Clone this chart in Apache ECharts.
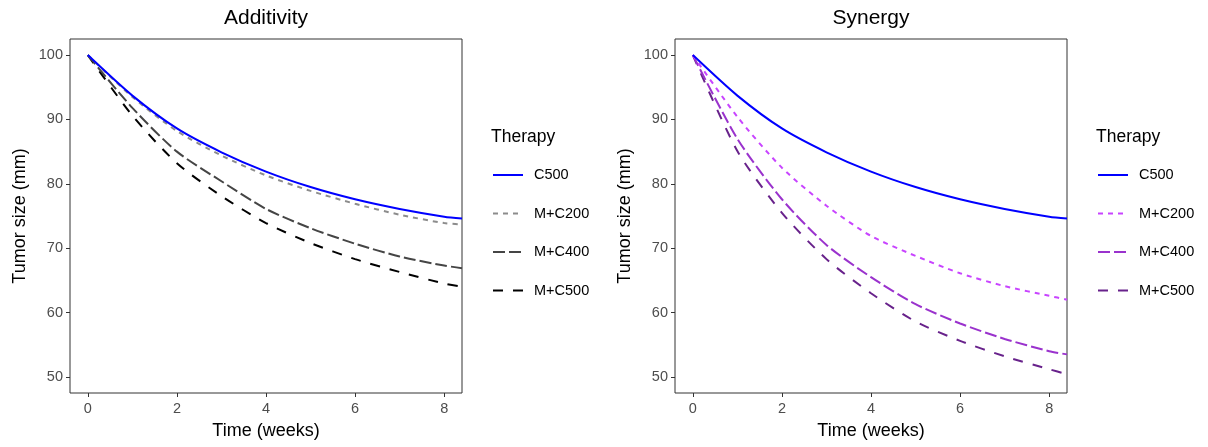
<!DOCTYPE html>
<html>
<head>
<meta charset="utf-8">
<script src="https://cdn.jsdelivr.net/npm/echarts@6/dist/echarts.min.js"></script>
<style>
  html, body { margin: 0; padding: 0; background: #fff; }
  #chart { width: 1208px; height: 447px; }
</style>
</head>
<body>
<div id="chart"></div>
<script>
// ---- data ----
const weeks = [0, 1, 2, 3, 4, 5, 6, 7, 8, 8.4];
const c500     = [100, 93.7, 88.6, 84.9, 81.9, 79.5, 77.6, 76.1, 74.9, 74.6];
const addMC200 = [100, 93.5, 88.2, 84.4, 81.3, 78.9, 76.9, 75.2, 73.9, 73.7];
const addMC400 = [100, 91.8, 85.0, 80.4, 76.1, 73.1, 70.7, 68.7, 67.3, 66.9];
const addMC500 = [100, 90.6, 83.2, 78.1, 73.9, 70.8, 68.3, 66.3, 64.5, 64.0];
const synMC200 = [100, 90.4, 82.5, 76.6, 71.9, 68.8, 66.1, 64.1, 62.6, 62.0];
const synMC400 = [100, 87.0, 77.6, 70.5, 65.5, 61.3, 58.3, 55.9, 54.0, 53.5];
const synMC500 = [100, 85.1, 75.5, 68.3, 63.0, 58.6, 55.6, 53.2, 51.2, 50.4];
const therapyNames = ['C500', 'M+C200', 'M+C400', 'M+C500'];
const panelTitles = ['Additivity', 'Synergy'];
const xTicks = [0, 2, 4, 6, 8];
const yTicks = [50, 60, 70, 80, 90, 100];

// ---- styling ----
const FONT = "'Liberation Sans', Arial, sans-serif";
const additivityColors = ['#0000FF', '#8C8C8C', '#454545', '#000000'];
const synergyColors = ['#0000FF', '#C844FF', '#9A32CD', '#68228B'];
const dashes = ['solid', [5, 5], [12, 4], [10, 10]];
const panels = [
  { left: 70, series: [c500, addMC200, addMC400, addMC500], colors: additivityColors },
  { left: 675, series: [c500, synMC200, synMC400, synMC500], colors: synergyColors }
];
const GRID_TOP = 39, GRID_W = 392, GRID_H = 354;

const pairs = arr => weeks.map((w, i) => [w, arr[i]]);

const option = {
  animation: false,
  backgroundColor: '#ffffff',
  title: panels.map((p, i) => ({
    text: panelTitles[i],
    left: p.left + GRID_W / 2,
    top: 8,
    padding: 0,
    textAlign: 'center',
    textStyle: { fontFamily: FONT, fontSize: 21, fontWeight: 'normal', color: '#000' }
  })),
  grid: panels.map(p => ({
    left: p.left, top: GRID_TOP, width: GRID_W, height: GRID_H,
    show: true, borderColor: '#333333', borderWidth: 1, backgroundColor: '#fff',
    containLabel: false, outerBoundsMode: 'none'
  })),
  xAxis: panels.map((p, i) => ({
    type: 'value', gridIndex: i, min: -0.4, max: 8.4,
    name: 'Time (weeks)', nameLocation: 'middle', nameGap: 29,
    nameTextStyle: { fontFamily: FONT, fontSize: 18, color: '#000' },
    axisLine: { show: false, onZero: false },
    splitLine: { show: false },
    axisTick: { show: true, length: 4, customValues: xTicks, lineStyle: { color: '#333333' } },
    axisLabel: { customValues: xTicks, fontFamily: FONT, fontSize: 14.5, color: '#4D4D4D', margin: 8 }
  })),
  yAxis: panels.map((p, i) => ({
    type: 'value', gridIndex: i, min: 47.5, max: 102.5, position: 'left',
    name: 'Tumor size (mm)', nameLocation: 'middle', nameGap: 41,
    nameTextStyle: { fontFamily: FONT, fontSize: 18, color: '#000' },
    axisLine: { show: false, onZero: false },
    splitLine: { show: false },
    axisTick: { show: true, length: 4, customValues: yTicks, lineStyle: { color: '#333333' } },
    axisLabel: { customValues: yTicks, fontFamily: FONT, fontSize: 14.5, color: '#4D4D4D', margin: 7 }
  })),
  series: []
};

panels.forEach((p, pi) => {
  p.series.forEach((arr, si) => {
    option.series.push({
      type: 'line', name: therapyNames[si],
      xAxisIndex: pi, yAxisIndex: pi,
      data: pairs(arr),
      showSymbol: false, symbol: 'none', clip: true,
      smooth: 0.25,
      z: 10 - si,
      lineStyle: { color: p.colors[si], width: 2, type: dashes[si], cap: 'butt' }
    });
  });
});

// legends (one per panel), built from the same names/colours/dashes
const legendElems = [];
panels.forEach(p => {
  const x0 = p.left + GRID_W + 29;
  legendElems.push({
    type: 'text', x: x0, y: 137,
    style: { text: 'Therapy', fontFamily: FONT, fontSize: 17.5, fill: '#000', verticalAlign: 'middle', align: 'left' }
  });
  therapyNames.forEach((nm, si) => {
    const y = 175 + si * 38.5;
    legendElems.push({
      type: 'line', shape: { x1: x0 + 2, y1: y, x2: x0 + 32, y2: y },
      style: { stroke: p.colors[si], lineWidth: 2, lineDash: dashes[si] === 'solid' ? null : dashes[si] }
    });
    legendElems.push({
      type: 'text', x: x0 + 43, y: y,
      style: { text: nm, fontFamily: FONT, fontSize: 14.5, fill: '#000', verticalAlign: 'middle', align: 'left' }
    });
  });
});
option.graphic = legendElems;

const chart = echarts.init(document.getElementById('chart'), null, { renderer: 'canvas' });
chart.setOption(option);
</script>
</body>
</html>
